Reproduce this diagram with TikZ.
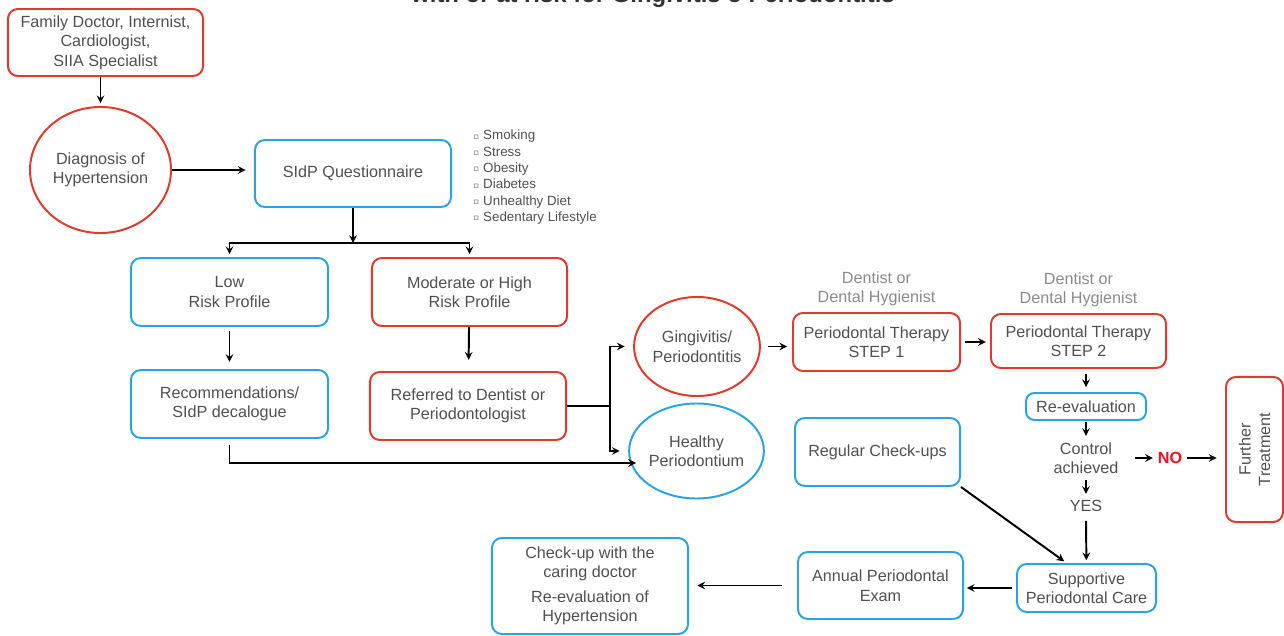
\documentclass[tikz,border=0pt]{standalone}
\usepackage{fontspec}
\setmainfont{Liberation Sans}
\newfontfamily\symfont{DejaVu Sans}
\usetikzlibrary{shapes.geometric, arrows, positioning, calc}

\definecolor{sidred}{HTML}{E2392C}
\definecolor{sidblue}{HTML}{28A3E8}
\definecolor{txtgray}{HTML}{505050}
\definecolor{lightgray}{HTML}{8A8A8A}
\definecolor{nored}{HTML}{E8141B}

\newcommand{\boxfont}{\fontsize{11.5}{13.9}\selectfont}
\newcommand{\listfont}{\fontsize{9.5}{11.6}\selectfont}
\newcommand{\sqbul}{{\symfont\fontsize{6}{7}\selectfont\raisebox{0.5pt}{▫}}\hspace{3pt}}

\begin{document}
\begin{tikzpicture}[x=0.025cm, y=-0.025cm,
    redbox/.style={rectangle, rounded corners=7pt, draw=sidred, line width=1.4pt,
                   align=center, text=txtgray, font=\boxfont},
    bluebox/.style={rectangle, rounded corners=7pt, draw=sidblue, line width=1.4pt,
                    align=center, text=txtgray, font=\boxfont},
    redcirc/.style={ellipse, draw=sidred, line width=1.4pt, inner sep=0pt,
                    align=center, text=txtgray, font=\boxfont},
    bluecirc/.style={ellipse, draw=sidblue, line width=1.4pt, inner sep=0pt,
                     align=center, text=txtgray, font=\boxfont},
    plain/.style={align=center, text=txtgray, font=\boxfont},
    who/.style={align=center, text=lightgray, font=\boxfont, inner sep=0pt},
    arrow/.style={->, >=stealth, line width=1.4pt, shorten >=2pt},
    line/.style={line width=1.4pt}]

    \useasboundingbox (0,0) rectangle (1284,636);
    \clip (0,0) rectangle (1284,636);

    % Title (cut at the top edge)
    \node[anchor=base, text=black!80, font=\bfseries\fontsize{17}{19}\selectfont] (title) at (653,3)
        {with or at risk for Gingivitis o Periodontitis};

    % Nodes - left part
    \node[redbox, minimum width=4.875cm, minimum height=1.675cm] (family) at (105.5,42.5)
        {Family Doctor, Internist,\\Cardiologist,\\SIIA Specialist};
    \node[redcirc, minimum width=3.525cm, minimum height=3.15cm] (diagnosis) at (100.5,170)
        {Diagnosis of\\Hypertension};
    \node[bluebox, minimum width=4.9cm, minimum height=1.675cm] (questionnaire) at (353,173.5)
        {SIdP Questionnaire};
    \node[anchor=north west, inner sep=0pt, align=left, text=txtgray, font=\listfont] (factors) at (473,130)
        {\sqbul Smoking\\ \sqbul Stress\\ \sqbul Obesity\\ \sqbul Diabetes\\
         \sqbul Unhealthy Diet\\ \sqbul Sedentary Lifestyle};
    \node[bluebox, minimum width=4.925cm, minimum height=1.7cm] (lowrisk) at (229.5,292)
        {Low\\Risk Profile};
    \node[redbox, minimum width=4.875cm, minimum height=1.7cm] (highrisk) at (469.5,292)
        {Moderate or High\\Risk Profile};
    \node[bluebox, minimum width=4.925cm, minimum height=1.7cm] (decalogue) at (229.5,404)
        {Recommendations/\\SIdP decalogue};
    \node[redbox, minimum width=4.9cm, minimum height=1.7cm] (referred) at (468,406)
        {Referred to Dentist or\\Periodontologist};
    \coordinate (split) at (353,243);
    \coordinate (fork) at (610,406);
    \coordinate (healthyin) at (636,463);

    % Nodes - right part
    \node[redcirc, minimum width=2.7cm, minimum height=2.475cm] (gingivitis) at (697,346.5)
        {Gingivitis/\\Periodontitis};
    \node[bluecirc, minimum width=2.725cm, minimum height=2.375cm] (healthy) at (696.5,451)
        {Healthy\\Periodontium};
    \node[redbox, minimum width=4.175cm, minimum height=1.45cm] (step1) at (876.5,342)
        {Periodontal Therapy\\STEP 1};
    \node[redbox, minimum width=4.375cm, minimum height=1.35cm] (step2) at (1078.5,341)
        {Periodontal Therapy\\STEP 2};
    \node[who, above=4pt of step1] (who1) {Dentist or\\Dental Hygienist};
    \node[who, above=4pt of step2] (who2) {Dentist or\\Dental Hygienist};
    \node[bluebox, rounded corners=6pt, minimum width=3cm, minimum height=0.675cm, inner sep=1pt] (reeval) at (1086,406.5)
        {Re-evaluation};
    \node[plain] (control) at (1086,458) {Control\\achieved};
    \node[plain] (yes) at (1086,506) {YES};
    \node[text=nored, font=\boxfont\bfseries] (no) at (1170,458) {NO};
    \node[redbox, rotate=90, minimum width=3.625cm, minimum height=1.425cm] (further) at (1254.5,449.5)
        {Further\\Treatment};
    \node[bluebox, minimum width=4.125cm, minimum height=1.7cm] (checkups) at (877.5,452)
        {Regular Check-ups};
    \node[bluebox, minimum width=3.475cm, minimum height=1.2cm, inner sep=1pt] (supportive) at (1086.5,588)
        {Supportive\\Periodontal Care};
    \node[bluebox, minimum width=4.125cm, minimum height=1.675cm] (annual) at (880.5,585.5)
        {Annual Periodontal\\Exam};
    \node[bluebox, minimum width=4.9cm, minimum height=2.4cm] (caring) at (590,586)
        {Check-up with the\\caring doctor\\[3.5pt]Re-evaluation of\\Hypertension};

    % Arrows
    \draw[arrow] (family.south -| diagnosis) -- (diagnosis);
    \draw[arrow, shorten >=6pt] (diagnosis.east) -- (diagnosis.east -| questionnaire.west);
    \draw[arrow, shorten >=0pt] (questionnaire) -- (split);
    \draw[arrow] (split) -| (lowrisk);
    \draw[arrow] (split) -| (highrisk);
    \draw[arrow, shorten <=3pt, shorten >=5pt] (lowrisk) -- (decalogue);
    \draw[arrow, shorten >=8pt] (highrisk) -- (referred);
    \draw[line] (referred.east) -- (fork);
    \draw[arrow, shorten >=6pt] (fork) |- (gingivitis);
    \draw[arrow, shorten >=6pt] (fork) |- (healthy);
    \draw[arrow, shorten <=4pt, shorten >=0pt] (decalogue.south) |- (healthyin);
    \draw[arrow, shorten <=5pt, shorten >=3.5pt] (gingivitis.east) -- (gingivitis.east -| step1.west);
    \draw[arrow, shorten <=3pt, shorten >=3pt] (step1.east) -- (step1.east -| step2.west);
    \draw[arrow, shorten <=3.5pt, shorten >=3.5pt] (reeval.north |- step2.south) -- (reeval.north);
    \draw[arrow, shorten <=1pt, shorten >=1pt] (reeval) -- (control);
    \draw[arrow, shorten <=1pt, shorten >=1pt] (control) -- (yes);
    \draw[arrow, shorten <=8pt, shorten >=0pt] (control) -- (no);
    \draw[arrow, shorten <=0pt, shorten >=6pt] (no.east) -- (no.east -| further.north);
    \draw[arrow, shorten <=3pt] (yes) -- (supportive);
    \draw[arrow] (checkups.south east) -- ([xshift=-0.5cm]supportive.north);
    \draw[arrow, shorten <=3pt, shorten >=2pt] (supportive.west) -- (supportive.west -| annual.east);
    \draw[arrow, shorten <=10.5pt, shorten >=6pt] (annual.west) -- (annual.west -| caring.east);

\end{tikzpicture}
\end{document}
